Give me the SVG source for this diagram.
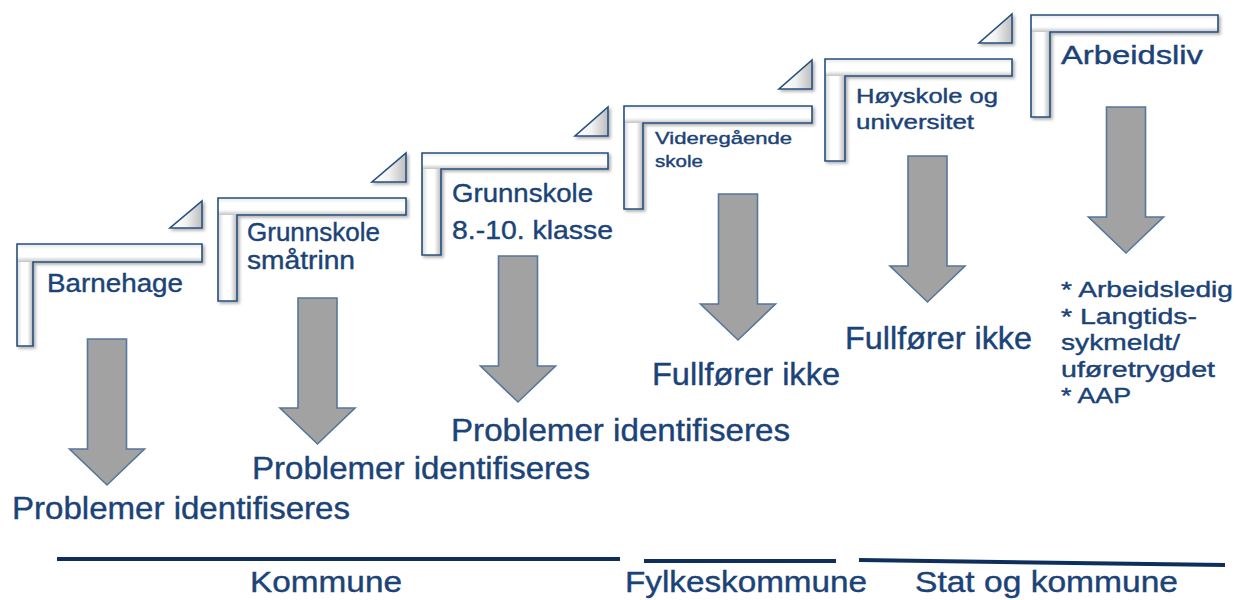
<svg xmlns="http://www.w3.org/2000/svg" width="1237" height="600" viewBox="0 0 1237 600">
<defs>
<linearGradient id="gv" x1="0" y1="0" x2="1" y2="0">
<stop offset="0" stop-color="#d4d4d4"/><stop offset="0.3" stop-color="#ffffff"/><stop offset="0.65" stop-color="#ffffff"/><stop offset="1" stop-color="#b8b8b8"/>
</linearGradient>
<linearGradient id="gh" x1="0" y1="0" x2="0" y2="1">
<stop offset="0" stop-color="#e8e8e8"/><stop offset="0.3" stop-color="#ffffff"/><stop offset="0.7" stop-color="#ffffff"/><stop offset="1" stop-color="#c4c4c4"/>
</linearGradient>
<linearGradient id="gt" x1="0" y1="0" x2="1" y2="0">
<stop offset="0" stop-color="#ffffff"/><stop offset="0.5" stop-color="#f2f2f2"/><stop offset="1" stop-color="#bdbdbd"/>
</linearGradient>
<filter id="sh" x="-10%" y="-10%" width="130%" height="130%">
<feDropShadow dx="2" dy="2" stdDeviation="1.5" flood-color="#000" flood-opacity="0.3"/>
</filter>
</defs>
<style>
.v{fill:url(#gv)}
.h{fill:url(#gh)}
.o{fill:none;stroke:#26507f;stroke-width:1.6;stroke-linejoin:miter}
.tri{fill:url(#gt);stroke:#26507f;stroke-width:1.6;stroke-linejoin:miter}
.t{font-family:"Liberation Sans",Arial,sans-serif;fill:#1b4377;stroke:#1b4377;stroke-width:0.4}
.s{font-size:25px}
.m{font-size:32px}
.b{font-size:30px}
.arr{fill:#a2a2a2;stroke:#56769b;stroke-width:1.6;stroke-linejoin:miter}
.ln{stroke:#0e2f5c;stroke-width:4;fill:none}
</style>

<g id="step-barnehage">
<g filter="url(#sh)">
<rect class="v" x="17" y="244" width="16" height="102"/>
<rect class="h" x="17" y="244" width="185" height="18"/>
<path class="o" d="M17,244 H202 V262 H33 V346 H17 Z"/>
<path class="tri" d="M170,228 H202 V201 Z"/>
</g>
<text class="t s" x="47" y="292" textLength="136" lengthAdjust="spacingAndGlyphs">Barnehage</text>
</g>

<g id="step-grunnskole-smatrinn">
<g filter="url(#sh)">
<rect class="v" x="218" y="198" width="19" height="103"/>
<rect class="h" x="218" y="198" width="188" height="17"/>
<path class="o" d="M218,198 H406 V215 H237 V301 H218 Z"/>
<path class="tri" d="M372,182 H406 V153 Z"/>
</g>
<text class="t s" x="247" y="241" textLength="133" lengthAdjust="spacingAndGlyphs">Grunnskole</text>
<text class="t s" x="247" y="269" textLength="108" lengthAdjust="spacingAndGlyphs">småtrinn</text>
</g>

<g id="step-grunnskole-8-10">
<g filter="url(#sh)">
<rect class="v" x="422" y="153" width="19" height="102"/>
<rect class="h" x="422" y="153" width="186" height="16"/>
<path class="o" d="M422,153 H608 V169 H441 V255 H422 Z"/>
<path class="tri" d="M575,136 H608 V107 Z"/>
</g>
<text class="t" font-size="26" x="452" y="202" textLength="141" lengthAdjust="spacingAndGlyphs">Grunnskole</text>
<text class="t" font-size="26" x="452" y="239" textLength="161" lengthAdjust="spacingAndGlyphs">8.-10. klasse</text>
</g>

<g id="step-videregaende">
<g filter="url(#sh)">
<rect class="v" x="624" y="106" width="19" height="103"/>
<rect class="h" x="624" y="106" width="188" height="17"/>
<path class="o" d="M624,106 H812 V123 H643 V209 H624 Z"/>
<path class="tri" d="M779,89 H812 V60 Z"/>
</g>
<text class="t" font-size="17" x="655" y="144" textLength="137" lengthAdjust="spacingAndGlyphs">Videregående</text>
<text class="t" font-size="17" x="655" y="167" textLength="48" lengthAdjust="spacingAndGlyphs">skole</text>
</g>

<g id="step-hoyskole">
<g filter="url(#sh)">
<rect class="v" x="825" y="59" width="20" height="102"/>
<rect class="h" x="825" y="59" width="187" height="17"/>
<path class="o" d="M825,59 H1012 V76 H845 V161 H825 Z"/>
<path class="tri" d="M979,43 H1012 V14 Z"/>
</g>
<text class="t" font-size="20" x="856" y="103" textLength="142" lengthAdjust="spacingAndGlyphs">Høyskole og</text>
<text class="t" font-size="20" x="856" y="129" textLength="118" lengthAdjust="spacingAndGlyphs">universitet</text>
</g>

<g id="step-arbeidsliv">
<g filter="url(#sh)">
<rect class="v" x="1031" y="15" width="19" height="102"/>
<rect class="h" x="1031" y="15" width="187" height="17"/>
<path class="o" d="M1031,15 H1218 V32 H1050 V117 H1031 Z"/>
</g>
<text class="t" font-size="26" x="1061" y="64" textLength="142" lengthAdjust="spacingAndGlyphs">Arbeidsliv</text>
</g>

<g id="connectors">
<path class="arr" d="M87.5,339 H126.5 V449 H144.5 L107,485 L69.5,449 H87.5 Z"/>
<path class="arr" d="M298,298 H337 V408 H355 L317.5,444 L280,408 H298 Z"/>
<path class="arr" d="M498.5,256 H537.5 V366 H555.5 L518,402 L480.5,366 H498.5 Z"/>
<path class="arr" d="M718.5,194 H757.5 V304 H775.5 L738,340 L700.5,304 H718.5 Z"/>
<path class="arr" d="M908,156 H947 V266 H965 L927.5,302 L890,266 H908 Z"/>
<path class="arr" d="M1106.5,107 H1145.5 V217 H1163.5 L1126,253 L1088.5,217 H1106.5 Z"/>
</g>

<g id="outcome-1">
<text class="t m" x="12" y="519" textLength="338" lengthAdjust="spacingAndGlyphs">Problemer identifiseres</text>
</g>
<g id="outcome-2">
<text class="t m" x="252" y="479" textLength="338" lengthAdjust="spacingAndGlyphs">Problemer identifiseres</text>
</g>
<g id="outcome-3">
<text class="t m" x="451" y="441" textLength="339" lengthAdjust="spacingAndGlyphs">Problemer identifiseres</text>
</g>
<g id="outcome-4">
<text class="t m" x="652" y="385" textLength="188" lengthAdjust="spacingAndGlyphs">Fullfører ikke</text>
</g>
<g id="outcome-5">
<text class="t m" x="845" y="349" textLength="187" lengthAdjust="spacingAndGlyphs">Fullfører ikke</text>
</g>
<g id="outcome-6">
<text class="t" font-size="22" x="1061" y="297" textLength="172" lengthAdjust="spacingAndGlyphs">* Arbeidsledig</text>
<text class="t" font-size="22" x="1061" y="324" textLength="136" lengthAdjust="spacingAndGlyphs">* Langtids-</text>
<text class="t" font-size="22" x="1061" y="350" textLength="119" lengthAdjust="spacingAndGlyphs">sykmeldt/</text>
<text class="t" font-size="22" x="1061" y="377" textLength="154" lengthAdjust="spacingAndGlyphs">uføretrygdet</text>
<text class="t" font-size="22" x="1061" y="403" textLength="70" lengthAdjust="spacingAndGlyphs">* AAP</text>
</g>

<g id="sector-kommune">
<line class="ln" x1="57" y1="559" x2="620" y2="559"/>
<text class="t b" x="250" y="592" textLength="152" lengthAdjust="spacingAndGlyphs">Kommune</text>
</g>
<g id="sector-fylkeskommune">
<line class="ln" x1="644" y1="561" x2="836" y2="561"/>
<text class="t b" x="625" y="592" textLength="242" lengthAdjust="spacingAndGlyphs">Fylkeskommune</text>
</g>
<g id="sector-stat">
<line class="ln" x1="859" y1="560" x2="1225" y2="565"/>
<text class="t b" x="915" y="592" textLength="263" lengthAdjust="spacingAndGlyphs">Stat og kommune</text>
</g>
</svg>
